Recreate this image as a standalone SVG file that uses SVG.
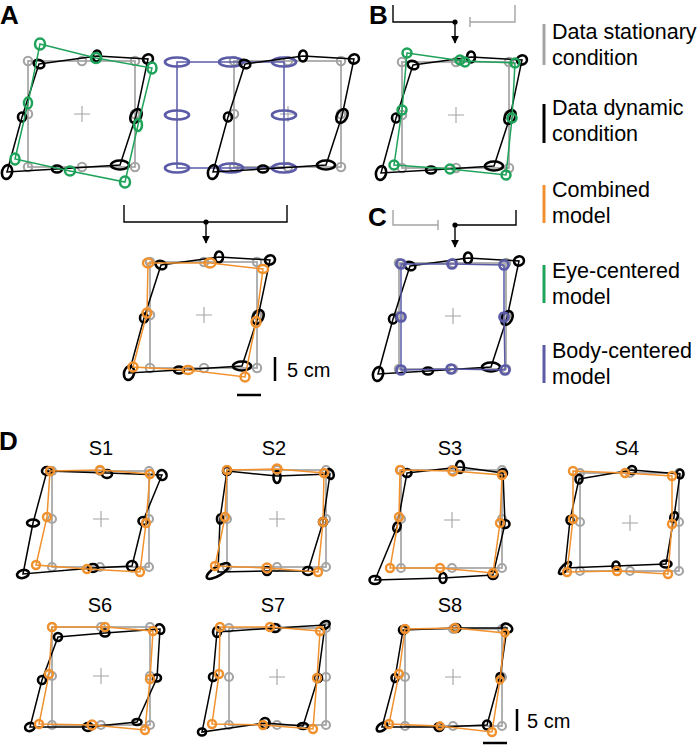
<svg xmlns="http://www.w3.org/2000/svg" width="700" height="745" viewBox="0 0 700 745">
<style>
text{font-family:"Liberation Sans",Arial,sans-serif;fill:#000}
.lab{font-size:26px;font-weight:bold}
.leg{font-size:21.5px}
.ttl{font-size:20px;text-anchor:middle}
.sc{font-size:20px}
.g{fill:none;stroke:#a4a4a4;stroke-width:1.7}
.gc{fill:none;stroke:#a4a4a4;stroke-width:2.1}
.x{fill:none;stroke:#a4a4a4;stroke-width:1.1}
.k{fill:none;stroke:#000;stroke-width:1.5}
.ke{fill:none;stroke:#000;stroke-width:2.6}
.o{fill:none;stroke:#f0912e;stroke-width:1.5}
.oe{fill:none;stroke:#f0912e;stroke-width:2.4}
.gn{fill:none;stroke:#1fa35a;stroke-width:1.5}
.gne{fill:none;stroke:#1fa35a;stroke-width:2.5}
.b{fill:none;stroke:#5b5ba8;stroke-width:1.5}
.be{fill:none;stroke:#5b5ba8;stroke-width:2.7}
.br{fill:none;stroke:#000;stroke-width:1.4}
.brg{fill:none;stroke:#a4a4a4;stroke-width:1.4}
.bar{stroke-width:3}
</style>
<defs>
<marker id="arr" viewBox="0 0 10 10" refX="9" refY="5" markerWidth="8" markerHeight="8" markerUnits="userSpaceOnUse" orient="auto">
<path d="M0,0L10,5L0,10z" fill="#000"/>
</marker>
<g id="grayA">
<rect class="g" x="0" y="0" width="107" height="106"/>
<circle class="gc" cx="0" cy="0" r="4.2"/><circle class="gc" cx="54" cy="0" r="4.2"/><circle class="gc" cx="107" cy="0" r="4.2"/>
<circle class="gc" cx="0" cy="53" r="4.2"/><circle class="gc" cx="107" cy="53" r="4.2"/>
<circle class="gc" cx="0" cy="106" r="4.2"/><circle class="gc" cx="54" cy="106" r="4.2"/><circle class="gc" cx="107" cy="106" r="4.2"/>
<path class="x" d="M46,53H62M54,45V61"/>
</g>
<g id="blackA">
<polygon class="k" points="11,3 69,-5 120,-2 108,55 92,104 29,108 -21,111 -6,56"/>
<ellipse class="ke" cx="11" cy="3" rx="5.5" ry="4" transform="rotate(20 11 3)"/>
<ellipse class="ke" cx="69" cy="-5" rx="4" ry="5.5"/>
<ellipse class="ke" cx="120" cy="-2" rx="5" ry="4.5" transform="rotate(-20 120 -2)"/>
<ellipse class="ke" cx="108" cy="55" rx="5" ry="7.5" transform="rotate(30 108 55)"/>
<ellipse class="ke" cx="92" cy="104" rx="9" ry="4.5"/>
<ellipse class="ke" cx="29" cy="108" rx="5" ry="3.5"/>
<ellipse class="ke" cx="-21" cy="111" rx="5" ry="7" transform="rotate(15 -21 111)"/>
<ellipse class="ke" cx="-6" cy="56" rx="4" ry="4.5"/>
</g>
</defs>

<!-- Panel labels -->
<g id="labels">
<text class="lab" x="0" y="24">A</text>
<text class="lab" x="369" y="24">B</text>
<text class="lab" x="368" y="226">C</text>
<text class="lab" x="-1" y="450">D</text>
</g>

<!-- Panel A left: eye-centered -->
<g id="A-eye" transform="translate(28,61)">
<use href="#grayA"/>
<use href="#blackA"/>
<polygon class="gn" points="12,-17 68,-3 124,7 110,64 97,121 42,110 -13,98 0,42"/>
<ellipse class="gne" cx="12" cy="-17" rx="5" ry="5.5"/>
<ellipse class="gne" cx="68" cy="-3" rx="5" ry="5"/>
<ellipse class="gne" cx="124" cy="7" rx="4.5" ry="5.5"/>
<ellipse class="gne" cx="110" cy="64" rx="4" ry="6"/>
<ellipse class="gne" cx="97" cy="121" rx="5" ry="5.5"/>
<ellipse class="gne" cx="42" cy="110" rx="5" ry="4.5"/>
<ellipse class="gne" cx="-13" cy="98" rx="4.5" ry="5.5"/>
<ellipse class="gne" cx="0" cy="42" rx="4" ry="5.5"/>
</g>

<!-- Panel A right: body-centered -->
<g id="A-body" transform="translate(234,61)">
<use href="#grayA"/>
<polygon class="b" points="-57,1 -3,1 50,1 50,54 50,107 -3,107 -57,107 -57,54"/>
<ellipse class="be" cx="-57" cy="1" rx="12" ry="4.5"/>
<ellipse class="be" cx="-3" cy="1" rx="12" ry="4.5"/>
<ellipse class="be" cx="50" cy="1" rx="12" ry="4.5"/>
<ellipse class="be" cx="50" cy="54" rx="12" ry="4.5"/>
<ellipse class="be" cx="50" cy="107" rx="12" ry="4.5"/>
<ellipse class="be" cx="-3" cy="107" rx="12" ry="4.5"/>
<ellipse class="be" cx="-57" cy="107" rx="12" ry="4.5"/>
<ellipse class="be" cx="-57" cy="54" rx="12" ry="4.5"/>
<use href="#blackA"/>
</g>

<!-- Panel A bottom: combined -->
<g id="A-combined" transform="translate(150,262)">
<use href="#grayA"/>
<use href="#blackA"/>
<polygon class="o" points="-2,1 60,1 113,7 106,60 95,115 38,108 -17,105 -3,51"/>
<ellipse class="oe" cx="-2" cy="1" rx="5" ry="4.5"/>
<ellipse class="oe" cx="60" cy="1" rx="5.5" ry="4.5"/>
<ellipse class="oe" cx="113" cy="7" rx="5" ry="4"/>
<ellipse class="oe" cx="106" cy="60" rx="4.5" ry="5"/>
<ellipse class="oe" cx="95" cy="115" rx="4.5" ry="4.5"/>
<ellipse class="oe" cx="38" cy="108" rx="5.5" ry="4"/>
<ellipse class="oe" cx="-17" cy="105" rx="4.5" ry="4.5"/>
<ellipse class="oe" cx="-3" cy="51" rx="4.5" ry="4.5"/>
</g>

<!-- Panel B -->
<g id="B-plot" transform="translate(402,62)">
<use href="#grayA"/>
<use href="#blackA"/>
<polygon class="gn" points="5,-9 61,-1 113,1 110,56 104,113 48,107 -8,103 0,48"/>
<ellipse class="gne" cx="5" cy="-9" rx="4.5" ry="4.5"/>
<ellipse class="gne" cx="58" cy="-2" rx="4.5" ry="4.5"/>
<ellipse class="gne" cx="63" cy="0" rx="4.5" ry="4.5"/>
<ellipse class="gne" cx="113" cy="1" rx="4.5" ry="4.5"/>
<ellipse class="gne" cx="110" cy="56" rx="4.5" ry="4.5"/>
<ellipse class="gne" cx="104" cy="113" rx="4.5" ry="4.5"/>
<ellipse class="gne" cx="48" cy="107" rx="4.5" ry="4.5"/>
<ellipse class="gne" cx="-8" cy="103" rx="4.5" ry="4.5"/>
<ellipse class="gne" cx="0" cy="48" rx="4.5" ry="4.5"/>
</g>

<!-- Panel C -->
<g id="C-plot" transform="translate(399,263)">
<use href="#grayA"/>
<use href="#blackA"/>
<polygon class="b" points="2,1 53,1 105,2 105,54 106,107 52,106 2,107 2,54"/>
<circle class="be" cx="2" cy="1" r="4.5"/><circle class="be" cx="53" cy="1" r="4.5"/><circle class="be" cx="105" cy="2" r="4.5"/>
<circle class="be" cx="105" cy="54" r="4.5"/><circle class="be" cx="106" cy="107" r="4.5"/><circle class="be" cx="52" cy="106" r="4.5"/>
<circle class="be" cx="2" cy="107" r="4.5"/><circle class="be" cx="2" cy="54" r="4.5"/>
</g>

<!-- Connectors: brackets and arrows -->
<g id="connectors">
<path class="br" d="M124,205V222H287V205"/>
<circle cx="206" cy="222" r="2.6" fill="#000"/>
<line class="br" x1="206" y1="222" x2="206" y2="243" marker-end="url(#arr)"/>
<path class="br" d="M393,5V22H455"/>
<path class="brg" d="M470,22H515V5M470,17V27"/>
<circle cx="455" cy="22" r="2.6" fill="#000"/>
<line class="br" x1="455" y1="22" x2="455" y2="43" marker-end="url(#arr)"/>
<path class="brg" d="M393,210V225H438M438,220V230"/>
<path class="br" d="M455,225H516V210"/>
<circle cx="455" cy="225" r="2.6" fill="#000"/>
<line class="br" x1="455" y1="225" x2="455" y2="247" marker-end="url(#arr)"/>
</g>

<!-- Scale bars -->
<g id="scaleA">
<line x1="275" y1="357" x2="275" y2="381" stroke="#000" stroke-width="2.5"/>
<line x1="237" y1="395" x2="261" y2="395" stroke="#000" stroke-width="2.5"/>
<text class="sc" x="287" y="377">5 cm</text>
</g>
<g id="scaleD">
<line x1="517" y1="709" x2="517" y2="731" stroke="#000" stroke-width="2.5"/>
<line x1="483" y1="743" x2="507" y2="743" stroke="#000" stroke-width="2.5"/>
<text class="sc" x="527" y="728">5 cm</text>
</g>

<!-- Legend -->
<g id="legend">
<line class="bar" x1="544" y1="24" x2="544" y2="65" stroke="#a4a4a4"/>
<text class="leg" x="552" y="39">Data stationary</text><text class="leg" x="552" y="65">condition</text>
<line class="bar" x1="544" y1="104" x2="544" y2="143" stroke="#000"/>
<text class="leg" x="552" y="115">Data dynamic</text><text class="leg" x="552" y="141">condition</text>
<line class="bar" x1="544" y1="185" x2="544" y2="223" stroke="#f0912e"/>
<text class="leg" x="552" y="197">Combined</text><text class="leg" x="552" y="223">model</text>
<line class="bar" x1="544" y1="265" x2="544" y2="303" stroke="#1fa35a"/>
<text class="leg" x="552" y="278">Eye-centered</text><text class="leg" x="552" y="304">model</text>
<line class="bar" x1="544" y1="345" x2="544" y2="383" stroke="#5b5ba8"/>
<text class="leg" x="552" y="358">Body-centered</text><text class="leg" x="552" y="384">model</text>
</g>

<!-- Panel D subjects -->
<g id="S1">
<text class="ttl" x="101" y="455">S1</text>
<rect class="g" x="52" y="471" width="97" height="96"/>
<circle class="gc" cx="52" cy="471" r="4"/><circle class="gc" cx="100" cy="471" r="4"/><circle class="gc" cx="149" cy="471" r="4"/><circle class="gc" cx="52" cy="519" r="4"/><circle class="gc" cx="149" cy="519" r="4"/><circle class="gc" cx="52" cy="567" r="4"/><circle class="gc" cx="100" cy="567" r="4"/><circle class="gc" cx="149" cy="567" r="4"/>
<path class="x" d="M93,519H109M101,511V527"/>
<polygon class="k" points="47,471 107,473 162,475 143,521 132,566 93,568 23,574 33,523"/>
<ellipse class="ke" cx="47" cy="471" rx="5" ry="4"/><ellipse class="ke" cx="107" cy="474" rx="5" ry="4"/><ellipse class="ke" cx="162" cy="475" rx="4.5" ry="5" transform="rotate(-30 162 475)"/><ellipse class="ke" cx="143" cy="521" rx="4.5" ry="4"/><ellipse class="ke" cx="132" cy="566" rx="5" ry="5"/><ellipse class="ke" cx="93" cy="568" rx="5" ry="4"/><ellipse class="ke" cx="23" cy="574" rx="6" ry="4" transform="rotate(-15 23 574)"/><ellipse class="ke" cx="33" cy="523" rx="6" ry="3.5"/>
<polygon class="o" points="50,471 100,470 150,474 146,523 140,572 87,569 36,565 47,517"/>
<circle class="oe" cx="50" cy="471" r="4"/><circle class="oe" cx="100" cy="470" r="4"/><circle class="oe" cx="150" cy="474" r="4"/><circle class="oe" cx="146" cy="523" r="4"/><circle class="oe" cx="140" cy="572" r="4"/><circle class="oe" cx="87" cy="569" r="4"/><circle class="oe" cx="36" cy="565" r="4"/><circle class="oe" cx="47" cy="517" r="4"/>
</g>

<g id="S2">
<text class="ttl" x="274" y="455">S2</text>
<rect class="g" x="227" y="470" width="99" height="97"/>
<circle class="gc" cx="227" cy="470" r="4"/><circle class="gc" cx="277" cy="470" r="4"/><circle class="gc" cx="326" cy="470" r="4"/><circle class="gc" cx="227" cy="519" r="4"/><circle class="gc" cx="326" cy="519" r="4"/><circle class="gc" cx="227" cy="567" r="4"/><circle class="gc" cx="277" cy="567" r="4"/><circle class="gc" cx="326" cy="567" r="4"/>
<path class="x" d="M269,519H285M277,511V527"/>
<polygon class="k" points="227,471 277,476 330,474 323,522 308,571 267,571 218,572 220,519"/>
<ellipse class="ke" cx="227" cy="471" rx="4" ry="4"/><ellipse class="ke" cx="277" cy="477" rx="3.5" ry="6"/><ellipse class="ke" cx="330" cy="474" rx="3.5" ry="5" transform="rotate(-20 330 474)"/><ellipse class="ke" cx="323" cy="522" rx="4" ry="4"/><ellipse class="ke" cx="308" cy="571" rx="5" ry="4"/><ellipse class="ke" cx="267" cy="571" rx="4" ry="4"/><ellipse class="ke" cx="218" cy="571" rx="13" ry="4.5" transform="rotate(-32 218 571)"/><ellipse class="ke" cx="220" cy="519" rx="3" ry="4.5"/>
<polygon class="o" points="227,470 277,469 324,473 323,522 318,572 267,568 215,566 225,517"/>
<circle class="oe" cx="227" cy="470" r="4"/><circle class="oe" cx="277" cy="469" r="4.5"/><circle class="oe" cx="324" cy="473" r="4"/><circle class="oe" cx="323" cy="522" r="4"/><circle class="oe" cx="318" cy="572" r="4"/><circle class="oe" cx="267" cy="568" r="4.5"/><circle class="oe" cx="215" cy="566" r="4"/><circle class="oe" cx="225" cy="517" r="4"/>
</g>

<g id="S3">
<text class="ttl" x="450" y="455">S3</text>
<rect class="g" x="401" y="470" width="101" height="98"/>
<circle class="gc" cx="401" cy="470" r="4"/><circle class="gc" cx="452" cy="470" r="4"/><circle class="gc" cx="502" cy="470" r="4"/><circle class="gc" cx="401" cy="519" r="4"/><circle class="gc" cx="502" cy="519" r="4"/><circle class="gc" cx="401" cy="568" r="4"/><circle class="gc" cx="452" cy="568" r="4"/><circle class="gc" cx="502" cy="568" r="4"/>
<path class="x" d="M444,520H460M452,512V528"/>
<polygon class="k" points="407,473 460,467 503,473 505,524 493,575 443,578 375,580 397,527"/>
<ellipse class="ke" cx="407" cy="473" rx="4.5" ry="4"/><ellipse class="ke" cx="460" cy="467" rx="4" ry="6"/><ellipse class="ke" cx="503" cy="473" rx="4" ry="4"/><ellipse class="ke" cx="505" cy="524" rx="4.5" ry="4"/><ellipse class="ke" cx="493" cy="575" rx="4.5" ry="4"/><ellipse class="ke" cx="443" cy="578" rx="3.5" ry="5"/><ellipse class="ke" cx="375" cy="580" rx="5.5" ry="4"/><ellipse class="ke" cx="397" cy="527" rx="3.5" ry="5" transform="rotate(20 397 527)"/>
<polygon class="o" points="400,470 453,471 502,475 500,523 493,573 440,568 390,568 399,517"/>
<circle class="oe" cx="400" cy="470" r="4"/><circle class="oe" cx="453" cy="471" r="4.5"/><circle class="oe" cx="502" cy="475" r="4"/><circle class="oe" cx="500" cy="523" r="4"/><circle class="oe" cx="493" cy="573" r="4"/><circle class="oe" cx="440" cy="568" r="4"/><circle class="oe" cx="390" cy="568" r="4"/><circle class="oe" cx="399" cy="517" r="4"/>
</g>

<g id="S4">
<text class="ttl" x="627" y="455">S4</text>
<rect class="g" x="580" y="473" width="99" height="98"/>
<circle class="gc" cx="580" cy="473" r="4"/><circle class="gc" cx="630" cy="473" r="4"/><circle class="gc" cx="679" cy="473" r="4"/><circle class="gc" cx="580" cy="522" r="4"/><circle class="gc" cx="679" cy="522" r="4"/><circle class="gc" cx="580" cy="571" r="4"/><circle class="gc" cx="630" cy="571" r="4"/><circle class="gc" cx="679" cy="571" r="4"/>
<path class="x" d="M622,523H638M630,515V531"/>
<polygon class="k" points="579,479 632,470 680,474 674,517 666,564 616,566 565,568 570,520"/>
<ellipse class="ke" cx="579" cy="479" rx="3.5" ry="4.5"/><ellipse class="ke" cx="632" cy="470" rx="4" ry="4"/><ellipse class="ke" cx="680" cy="474" rx="3.5" ry="4.5"/><ellipse class="ke" cx="674" cy="517" rx="3.5" ry="5" transform="rotate(25 674 517)"/><ellipse class="ke" cx="666" cy="564" rx="5.5" ry="3.5"/><ellipse class="ke" cx="616" cy="566" rx="3.5" ry="4.5"/><ellipse class="ke" cx="565" cy="568" rx="8" ry="3" transform="rotate(-45 565 568)"/><ellipse class="ke" cx="570" cy="520" rx="3.5" ry="4"/>
<polygon class="o" points="573,471 625,473 672,476 672,524 668,574 617,571 567,572 573,519"/>
<circle class="oe" cx="573" cy="471" r="4"/><circle class="oe" cx="625" cy="473" r="4"/><circle class="oe" cx="672" cy="476" r="4"/><circle class="oe" cx="672" cy="524" r="4"/><circle class="oe" cx="668" cy="574" r="4"/><circle class="oe" cx="617" cy="571" r="4"/><circle class="oe" cx="567" cy="572" r="4"/><circle class="oe" cx="573" cy="519" r="4"/>
</g>

<g id="S6">
<text class="ttl" x="100" y="612">S6</text>
<rect class="g" x="52" y="627" width="98" height="98"/>
<circle class="gc" cx="52" cy="627" r="4"/><circle class="gc" cx="101" cy="627" r="4"/><circle class="gc" cx="150" cy="627" r="4"/><circle class="gc" cx="52" cy="676" r="4"/><circle class="gc" cx="150" cy="676" r="4"/><circle class="gc" cx="52" cy="725" r="4"/><circle class="gc" cx="101" cy="725" r="4"/><circle class="gc" cx="150" cy="725" r="4"/>
<path class="x" d="M93,676H109M101,668V684"/>
<polygon class="k" points="58,637 105,633 160,629 157,678 137,722 88,727 30,727 42,680"/>
<ellipse class="ke" cx="58" cy="637" rx="4" ry="4"/><ellipse class="ke" cx="105" cy="633" rx="4.5" ry="3.5"/><ellipse class="ke" cx="160" cy="629" rx="4" ry="5" transform="rotate(-30 160 629)"/><ellipse class="ke" cx="157" cy="678" rx="4" ry="3.5"/><ellipse class="ke" cx="137" cy="722" rx="4.5" ry="3"/><ellipse class="ke" cx="88" cy="727" rx="5" ry="4"/><ellipse class="ke" cx="30" cy="727" rx="5" ry="4" transform="rotate(-20 30 727)"/><ellipse class="ke" cx="42" cy="680" rx="4" ry="4"/>
<polygon class="o" points="52,627 105,627 153,631 150,679 145,730 92,725 39,724 49,674"/>
<circle class="oe" cx="52" cy="627" r="4"/><circle class="oe" cx="105" cy="627" r="4"/><circle class="oe" cx="153" cy="631" r="4"/><circle class="oe" cx="150" cy="679" r="4"/><circle class="oe" cx="145" cy="730" r="4"/><circle class="oe" cx="92" cy="725" r="4.5"/><circle class="oe" cx="39" cy="724" r="4"/><circle class="oe" cx="49" cy="674" r="4"/>
</g>

<g id="S7">
<text class="ttl" x="273" y="612">S7</text>
<rect class="g" x="229" y="628" width="97" height="97"/>
<circle class="gc" cx="229" cy="628" r="4"/><circle class="gc" cx="277" cy="628" r="4"/><circle class="gc" cx="326" cy="628" r="4"/><circle class="gc" cx="229" cy="677" r="4"/><circle class="gc" cx="326" cy="677" r="4"/><circle class="gc" cx="229" cy="725" r="4"/><circle class="gc" cx="277" cy="725" r="4"/><circle class="gc" cx="326" cy="725" r="4"/>
<path class="x" d="M269,677H285M277,669V685"/>
<polygon class="k" points="217,632 275,628 325,625 318,678 303,726 265,723 202,732 213,677"/>
<ellipse class="ke" cx="217" cy="632" rx="4" ry="5"/><ellipse class="ke" cx="275" cy="628" rx="4.5" ry="4"/><ellipse class="ke" cx="325" cy="625" rx="5" ry="3.5" transform="rotate(-30 325 625)"/><ellipse class="ke" cx="318" cy="678" rx="4" ry="4"/><ellipse class="ke" cx="303" cy="726" rx="5" ry="3"/><ellipse class="ke" cx="265" cy="723" rx="4.5" ry="5"/><ellipse class="ke" cx="202" cy="732" rx="4" ry="3.5"/><ellipse class="ke" cx="213" cy="677" rx="4" ry="4"/>
<polygon class="o" points="220,627 270,627 320,631 317,678 313,729 263,725 212,724 219,674"/>
<circle class="oe" cx="220" cy="627" r="4"/><circle class="oe" cx="270" cy="627" r="4"/><circle class="oe" cx="320" cy="631" r="4"/><circle class="oe" cx="317" cy="678" r="4"/><circle class="oe" cx="313" cy="729" r="4"/><circle class="oe" cx="263" cy="725" r="4"/><circle class="oe" cx="212" cy="724" r="4"/><circle class="oe" cx="219" cy="674" r="4"/>
</g>

<g id="S8">
<text class="ttl" x="450" y="612">S8</text>
<rect class="g" x="405" y="629" width="97" height="97"/>
<circle class="gc" cx="405" cy="629" r="4"/><circle class="gc" cx="453" cy="629" r="4"/><circle class="gc" cx="502" cy="629" r="4"/><circle class="gc" cx="405" cy="677" r="4"/><circle class="gc" cx="502" cy="677" r="4"/><circle class="gc" cx="405" cy="726" r="4"/><circle class="gc" cx="453" cy="726" r="4"/><circle class="gc" cx="502" cy="726" r="4"/>
<path class="x" d="M445,677H461M453,669V685"/>
<polygon class="k" points="403,630 456,628 507,628 500,677 487,725 439,727 382,727 395,678"/>
<ellipse class="ke" cx="403" cy="630" rx="4" ry="4"/><ellipse class="ke" cx="456" cy="628" rx="4.5" ry="4"/><ellipse class="ke" cx="507" cy="628" rx="5.5" ry="4" transform="rotate(30 507 628)"/><ellipse class="ke" cx="500" cy="677" rx="3.5" ry="4"/><ellipse class="ke" cx="487" cy="725" rx="4" ry="4.5"/><ellipse class="ke" cx="439" cy="727" rx="4.5" ry="4"/><ellipse class="ke" cx="382" cy="727" rx="6" ry="3.5" transform="rotate(-35 382 727)"/><ellipse class="ke" cx="395" cy="678" rx="3.5" ry="4"/>
<polygon class="o" points="405,629 455,628 505,633 500,680 492,732 440,726 389,724 399,674"/>
<circle class="oe" cx="405" cy="629" r="4"/><circle class="oe" cx="455" cy="628" r="4"/><circle class="oe" cx="505" cy="633" r="3.5"/><circle class="oe" cx="500" cy="680" r="3.5"/><circle class="oe" cx="492" cy="732" r="4"/><circle class="oe" cx="440" cy="726" r="3.5"/><circle class="oe" cx="389" cy="724" r="4"/><circle class="oe" cx="399" cy="674" r="4"/>
</g>
</svg>
